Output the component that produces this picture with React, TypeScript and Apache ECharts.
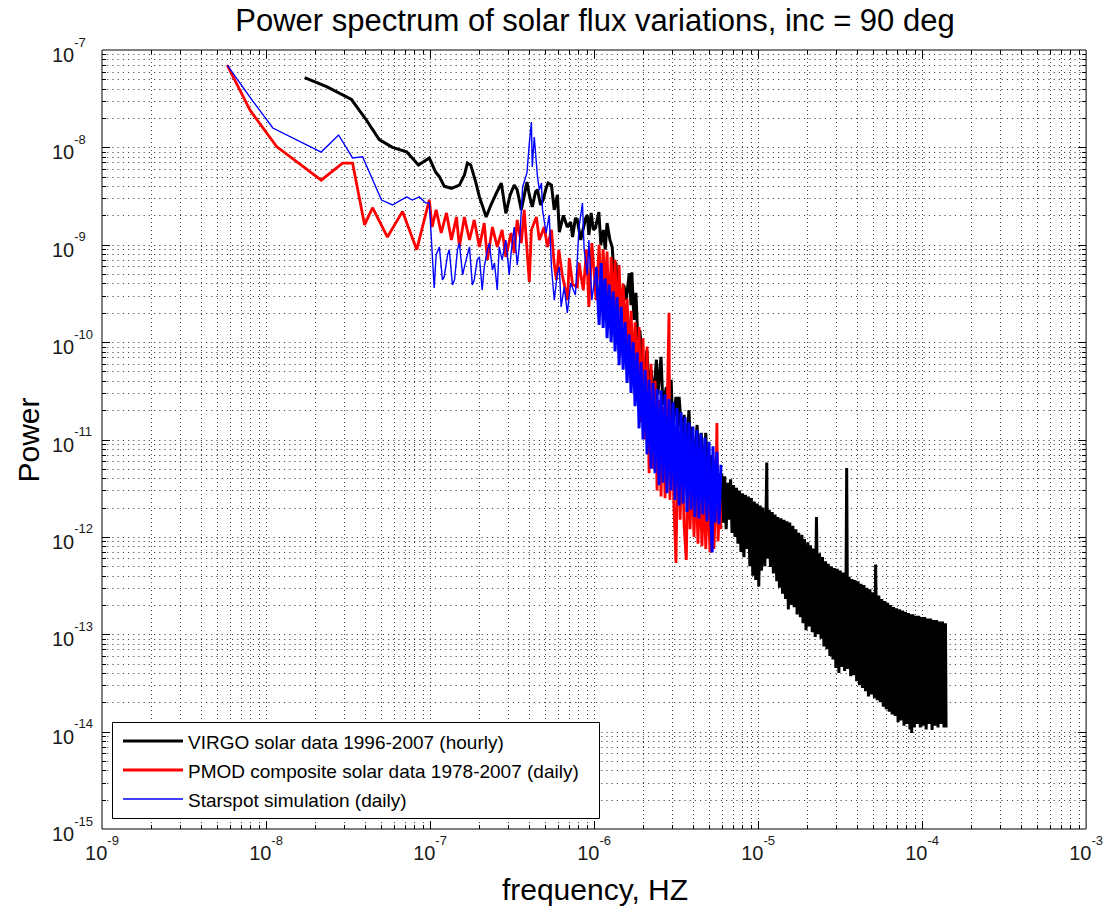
import React, { useEffect, useRef } from 'react';
import * as echarts from 'echarts';

const FONT = '"Liberation Sans", Arial, Helvetica, sans-serif';

const titleText = 'Power spectrum of solar flux variations, inc = 90 deg';
const xAxisTitle = 'frequency, HZ';
const yAxisTitle = 'Power';
const seriesNames = [
  'VIRGO solar data 1996-2007 (hourly)',
  'PMOD composite solar data 1978-2007 (daily)',
  'Starspot simulation (daily)',
];
const seriesColors = ['#000000', '#ff0000', '#0000ff'];
const legendLineWidths = [3, 3, 1.5];

const xDecades = [1e-9, 1e-8, 1e-7, 1e-6, 1e-5, 1e-4, 1e-3];
const yDecades = [1e-15, 1e-14, 1e-13, 1e-12, 1e-11, 1e-10, 1e-9, 1e-8, 1e-7];
const minorSteps = [1, 2, 3, 4, 5, 6, 7, 8, 9];

// VIRGO solar data 1996-2007 (hourly): [frequency Hz, power]
const virgo: [number, number][] = [
  [1.72e-8, 5.2e-8], [2.34e-8, 4.2e-8], [3.32e-8, 3.1e-8], [4.1e-8, 1.9e-8], [4.9e-8, 1.2e-8],
  [5.9e-8, 1.0e-8], [7.2e-8, 9.0e-9], [8.5e-8, 6.6e-9], [9.9e-8, 7.8e-9], [1.08e-7, 5.6e-9],
  [1.14e-7, 5.0e-9], [1.22e-7, 4.0e-9], [1.35e-7, 3.8e-9], [1.51e-7, 4.1e-9], [1.62e-7, 5.2e-9],
  [1.69e-7, 6.9e-9], [1.77e-7, 6.6e-9], [1.9e-7, 4.4e-9], [2.0e-7, 3.1e-9], [2.2e-7, 1.93e-9],
  [2.35e-7, 2.56e-9], [2.54e-7, 3.4e-9], [2.72e-7, 4.3e-9], [2.9e-7, 2.1e-9], [3.08e-7, 3.25e-9],
  [3.26e-7, 4.1e-9], [3.4e-7, 3.66e-9], [3.6e-7, 2.28e-9], [3.9e-7, 4.4e-9], [4.03e-7, 3.25e-9],
  [4.2e-7, 2.45e-9], [4.4e-7, 3.5e-9], [4.52e-7, 3.66e-9], [4.72e-7, 2.56e-9], [4.9e-7, 2.9e-9],
  [5.1e-7, 3.8e-9], [5.25e-7, 4.3e-9], [5.5e-7, 4.1e-9], [5.72e-7, 2.28e-9], [5.98e-7, 3.25e-9],
  [6.14e-7, 1.35e-9], [6.5e-7, 2.0e-9], [6.87e-7, 1.52e-9], [7.2e-7, 1.71e-9], [7.4e-7, 1.2e-9],
  [7.7e-7, 1.88e-9], [7.9e-7, 1.8e-9], [8.3e-7, 1.12e-9], [8.5e-7, 1.35e-9], [8.9e-7, 1.88e-9],
  [9.1e-7, 2.02e-9], [9.3e-7, 1.26e-9], [9.6e-7, 2.12e-9], [9.9e-7, 1.42e-9], [1.02e-6, 1.49e-9],
  [1.07e-6, 2.17e-9], [1.1e-6, 1.0e-9], [1.14e-6, 1.42e-9], [1.17e-6, 8.9e-10], [1.2e-6, 1.67e-9],
  [1.25e-6, 1.12e-9], [1.29e-6, 9.5e-10], [1.33e-6, 4.35e-10], [1.36e-6, 6.6e-10], [1.4e-6, 2.7e-10],
  [1.42e-6, 4.35e-10], [1.46e-6, 2.14e-10], [1.52e-6, 3.87e-10], [1.57e-6, 2.7e-10], [1.64e-6, 5.1e-10],
  [1.68e-6, 2.4e-10], [1.7e-6, 5.2e-10], [1.75e-6, 1.69e-10], [1.8e-6, 3.2e-10], [1.85e-6, 1.05e-10],
  [1.9e-6, 1.33e-10], [1.96e-6, 7.7e-11], [2.02e-6, 3.6e-11], [2.1e-6, 8.3e-11], [2.17e-6, 3.23e-11],
  [2.23e-6, 5.2e-11], [2.3e-6, 2.55e-11], [2.4e-6, 6.6e-11], [2.45e-6, 2.87e-11], [2.56e-6, 7.06e-11],
  [2.63e-6, 2.27e-11], [2.76e-6, 3.46e-11], [2.83e-6, 1.59e-11], [2.95e-6, 4.1e-11], [3.02e-6, 1.41e-11],
  [3.16e-6, 2.74e-11], [3.24e-6, 1.25e-11], [3.3e-6, 2.74e-11], [3.45e-6, 1.0e-11], [3.54e-6, 1.79e-11],
  [3.65e-6, 7.8e-12], [3.79e-6, 2.0e-11], [3.9e-6, 6.2e-12], [3.95e-6, 1.35e-11], [4.07e-6, 5.5e-12],
  [4.25e-6, 1.41e-11], [4.36e-6, 4.9e-12], [4.5e-6, 1.17e-11], [4.6e-6, 3.85e-12], [4.8e-6, 1.17e-11],
  [4.95e-6, 3.04e-12], [5.2e-6, 6.9e-12], [5.3e-6, 2.4e-12], [5.5e-6, 6.2e-12], [5.65e-6, 1.89e-12],
  [5.78e-6, 4.5e-12], [5.95e-6, 1.5e-12],
  [6.0e-6, 4.5e-12], [6.13e-6, 1.4e-12], [6.26e-6, 4.2e-12], [6.39e-6, 1.2e-12], [6.52e-6, 3.6e-12],
  [6.66e-6, 1.5e-12], [6.8e-6, 3.9e-12], [6.94e-6, 1.1e-12], [7.09e-6, 3.4e-12], [7.24e-6, 1.0e-12],
  [7.39e-6, 3.2e-12], [7.54e-6, 8.5e-13], [7.7e-6, 3.0e-12], [7.86e-6, 7e-13], [8.03e-6, 2.8e-12],
  [8.2e-6, 6.2e-13], [8.37e-6, 2.7e-12], [8.55e-6, 7.5e-13], [8.73e-6, 2.6e-12], [8.91e-6, 5e-13],
  [9.1e-6, 2.5e-12], [9.29e-6, 4e-13], [9.48e-6, 2.3e-12], [9.68e-6, 3.6e-13], [9.89e-6, 2.2e-12],
  [1.01e-5, 3.1e-13], [1.03e-5, 2.1e-12], [1.05e-5, 4.5e-13], [1.07e-5, 2.0e-12], [1.1e-5, 5e-13],
  [1.12e-5, 1.9e-12], [1.13e-5, 5.8e-12], [1.14e-5, 6e-13], [1.17e-5, 1.9e-12], [1.19e-5, 4.9e-13],
  [1.22e-5, 1.8e-12], [1.24e-5, 4.2e-13], [1.27e-5, 1.7e-12], [1.3e-5, 3.5e-13], [1.32e-5, 1.6e-12],
  [1.35e-5, 3e-13], [1.38e-5, 1.55e-12], [1.41e-5, 2.6e-13], [1.44e-5, 1.5e-12], [1.47e-5, 2.3e-13],
  [1.5e-5, 1.45e-12], [1.53e-5, 1.8e-13], [1.56e-5, 1.4e-12], [1.6e-5, 2e-13], [1.63e-5, 1.3e-12],
  [1.66e-5, 1.9e-13], [1.7e-5, 1.2e-12], [1.73e-5, 1.6e-13], [1.77e-5, 1.1e-12], [1.81e-5, 1.5e-13],
  [1.85e-5, 1.05e-12], [1.88e-5, 1.3e-13], [1.92e-5, 9.5e-13], [1.96e-5, 1.1e-13], [2.01e-5, 8.8e-13],
  [2.05e-5, 1.2e-13], [2.09e-5, 8.2e-13], [2.14e-5, 1.05e-13], [2.18e-5, 7.6e-13], [2.23e-5, 9.4e-14],
  [2.27e-5, 1.6e-12], [2.32e-5, 1.0e-13], [2.37e-5, 6.8e-13], [2.42e-5, 9e-14], [2.47e-5, 6.2e-13],
  [2.52e-5, 7.5e-14], [2.58e-5, 5.6e-13], [2.63e-5, 7e-14], [2.68e-5, 5.3e-13], [2.74e-5, 6e-14],
  [2.8e-5, 5.0e-13], [2.86e-5, 5.5e-14], [2.92e-5, 4.8e-13], [2.98e-5, 4.5e-14], [3.04e-5, 4.7e-13],
  [3.11e-5, 4.0e-14], [3.17e-5, 4.5e-13], [3.24e-5, 4.6e-14], [3.31e-5, 4.3e-13], [3.37e-5, 4.2e-14],
  [3.44e-5, 4.1e-13], [3.47e-5, 5.1e-12], [3.52e-5, 4.4e-14], [3.59e-5, 3.9e-13], [3.67e-5, 3.7e-14],
  [3.74e-5, 3.7e-13], [3.82e-5, 3.8e-14], [3.9e-5, 3.6e-13], [3.99e-5, 3.3e-14], [4.07e-5, 3.5e-13],
  [4.15e-5, 3.0e-14], [4.24e-5, 3.3e-13], [4.33e-5, 2.8e-14], [4.42e-5, 3.2e-13], [4.52e-5, 2.6e-14],
  [4.61e-5, 3.0e-13], [4.71e-5, 2.3e-14], [4.81e-5, 2.9e-13], [4.91e-5, 2.4e-14], [5.01e-5, 2.7e-13],
  [5.12e-5, 2.2e-14], [5.21e-5, 5.2e-13], [5.33e-5, 2.1e-14], [5.45e-5, 2.5e-13], [5.56e-5, 2.0e-14],
  [5.68e-5, 2.3e-13], [5.8e-5, 1.8e-14], [5.92e-5, 2.2e-13], [6.04e-5, 1.7e-14], [6.17e-5, 2.1e-13],
  [6.3e-5, 1.6e-14], [6.43e-5, 2.0e-13], [6.57e-5, 1.5e-14], [6.7e-5, 1.9e-13], [6.85e-5, 1.45e-14],
  [6.99e-5, 1.85e-13], [7.14e-5, 1.25e-14], [7.29e-5, 1.8e-13], [7.44e-5, 1.3e-14], [7.6e-5, 1.75e-13],
  [7.76e-5, 1.15e-14], [7.92e-5, 1.7e-13], [8.08e-5, 1.2e-14], [8.25e-5, 1.65e-13], [8.43e-5, 1.05e-14],
  [8.6e-5, 1.6e-13], [8.64e-5, 9.7e-15], [8.79e-5, 1.6e-13], [8.97e-5, 1.1e-14], [9.16e-5, 1.55e-13],
  [9.35e-5, 1.2e-14], [9.55e-5, 1.55e-13], [9.75e-5, 1.1e-14], [9.95e-5, 1.5e-13], [1.016e-4, 1.15e-14],
  [1.037e-4, 1.5e-13], [1.059e-4, 1.05e-14], [1.082e-4, 1.45e-13], [1.104e-4, 1.2e-14], [1.128e-4, 1.45e-13],
  [1.151e-4, 1.04e-14], [1.176e-4, 1.4e-13], [1.2e-4, 1.15e-14], [1.226e-4, 1.4e-13], [1.251e-4, 1.1e-14],
  [1.278e-4, 1.35e-13], [1.305e-4, 1.2e-14], [1.332e-4, 1.35e-13], [1.36e-4, 1.1e-14], [1.389e-4, 1.3e-13],
  [1.4e-4, 1.1e-14],
];

// PMOD composite solar data 1978-2007 (daily)
const pmod: [number, number][] = [
  [5.8e-9, 7.0e-8], [8.0e-9, 2.4e-8], [1.16e-8, 1.02e-8], [2.17e-8, 4.6e-9], [2.93e-8, 6.9e-9],
  [3.37e-8, 6.9e-9], [3.99e-8, 1.6e-9], [4.46e-8, 2.4e-9], [5.5e-8, 1.2e-9], [6.8e-8, 2.2e-9],
  [8.3e-8, 8.9e-10], [9.9e-8, 2.9e-9], [1.03e-7, 1.52e-9], [1.09e-7, 2.28e-9], [1.17e-7, 1.32e-9],
  [1.26e-7, 2.12e-9], [1.35e-7, 1.12e-9], [1.45e-7, 1.93e-9], [1.51e-7, 9.5e-10], [1.62e-7, 1.93e-9],
  [1.74e-7, 1.12e-9], [1.86e-7, 1.8e-9], [2.0e-7, 9.5e-10], [2.14e-7, 1.67e-9], [2.24e-7, 7.0e-10],
  [2.4e-7, 1.52e-9], [2.57e-7, 9.5e-10], [2.75e-7, 1.42e-9], [2.9e-7, 7.5e-10], [3.12e-7, 1.32e-9],
  [3.26e-7, 8.2e-10], [3.4e-7, 1.8e-9], [3.6e-7, 1.04e-9], [3.75e-7, 2.28e-9], [3.9e-7, 8.9e-10],
  [4.03e-7, 4.15e-10], [4.15e-7, 1.42e-9], [4.45e-7, 1.93e-9], [4.64e-7, 1.12e-9], [4.97e-7, 1.52e-9],
  [5.2e-7, 9.5e-10], [5.5e-7, 1.42e-9], [5.7e-7, 6.6e-10], [5.9e-7, 4.35e-10], [6.1e-7, 8.9e-10],
  [6.4e-7, 4.9e-10], [6.9e-7, 2.7e-10], [7.06e-7, 7.3e-10], [7.4e-7, 3.9e-10], [7.9e-7, 3.7e-10],
  [8.1e-7, 6.5e-10], [8.6e-7, 3.4e-10], [9.0e-7, 8.9e-10], [9.3e-7, 2.3e-10], [9.7e-7, 1.04e-9],
  [1.03e-6, 2.7e-10], [1.074e-6, 1.0e-9], [1.105e-6, 2.7e-10], [1.136e-6, 9.0e-10], [1.168e-6, 3.4e-10],
  [1.201e-6, 8.5e-10], [1.236e-6, 1.43e-10], [1.271e-6, 7.5e-10], [1.307e-6, 2.0e-10], [1.344e-6, 7.0e-10],
  [1.382e-6, 1.4e-10], [1.422e-6, 6.2e-10], [1.462e-6, 1.5e-10], [1.504e-6, 4.0e-10], [1.546e-6, 1.1e-10],
  [1.59e-6, 2.8e-10], [1.636e-6, 7.0e-11], [1.682e-6, 2.1e-10], [1.73e-6, 5.0e-11], [1.779e-6, 1.6e-10],
  [1.83e-6, 3.5e-11], [1.882e-6, 1.43e-10], [1.935e-6, 1.5e-11], [1.99e-6, 1.1e-10], [2.047e-6, 1.0e-11],
  [2.105e-6, 9.0e-11], [2.165e-6, 4.5e-12], [2.226e-6, 6.0e-11], [2.29e-6, 5.0e-12], [2.355e-6, 4.0e-11],
  [2.422e-6, 3.0e-12], [2.49e-6, 2.55e-11], [2.561e-6, 2.6e-12], [2.634e-6, 2.2e-11], [2.709e-6, 2.5e-12],
  [2.786e-6, 1.8e-11], [2.865e-6, 2.0e-10], [2.9e-6, 2.4e-12], [2.99e-6, 1.6e-11], [3.07e-6, 2.0e-12],
  [3.16e-6, 5.4e-13], [3.25e-6, 1.3e-11], [3.35e-6, 1.5e-12], [3.44e-6, 1.0e-11], [3.54e-6, 1.3e-12],
  [3.65e-6, 5.8e-13], [3.75e-6, 7.5e-12], [3.85e-6, 1.2e-12], [3.95e-6, 5.0e-12], [4.07e-6, 1.0e-12],
  [4.18e-6, 4.5e-12], [4.3e-6, 8.5e-13], [4.42e-6, 3.8e-12], [4.55e-6, 8.0e-13], [4.68e-6, 3.3e-12],
  [4.8e-6, 7.5e-13], [4.95e-6, 3.0e-12], [5.09e-6, 6.9e-13], [5.23e-6, 2.8e-12], [5.38e-6, 7.5e-13],
  [5.53e-6, 2.6e-12], [5.61e-6, 1.48e-11], [5.7e-6, 9e-13], [5.85e-6, 2.5e-12], [5.94e-6, 1.2e-12],
];

// Starspot simulation (daily)
const starspot: [number, number][] = [
  [5.8e-9, 7.0e-8], [7.96e-9, 3.3e-8], [1.1e-8, 1.58e-8], [2.17e-8, 8.95e-9], [2.77e-8, 1.34e-8],
  [3.37e-8, 7.8e-9], [3.88e-8, 8.0e-9], [5.06e-8, 2.88e-9], [5.9e-8, 2.56e-9], [7.2e-8, 3.1e-9],
  [7.8e-8, 2.88e-9], [8.6e-8, 3.1e-9], [9.4e-8, 2.69e-9], [9.9e-8, 2.69e-9], [1.02e-7, 1.12e-9],
  [1.06e-7, 3.6e-10], [1.09e-7, 7.9e-10], [1.14e-7, 9.5e-10], [1.19e-7, 4.35e-10], [1.22e-7, 4.67e-10],
  [1.28e-7, 7.9e-10], [1.31e-7, 8.9e-10], [1.37e-7, 3.87e-10], [1.41e-7, 4.35e-10], [1.47e-7, 8.9e-10],
  [1.51e-7, 1.04e-9], [1.58e-7, 4.9e-10], [1.62e-7, 5.9e-10], [1.69e-7, 7.9e-10], [1.74e-7, 9.5e-10],
  [1.81e-7, 3.87e-10], [1.86e-7, 4.35e-10], [1.94e-7, 7.0e-10], [2.0e-7, 7.5e-10], [2.08e-7, 3.43e-10],
  [2.14e-7, 5.9e-10], [2.24e-7, 8.9e-10], [2.3e-7, 1.04e-9], [2.4e-7, 5.5e-10], [2.47e-7, 6.5e-10],
  [2.57e-7, 3.43e-10], [2.64e-7, 9.5e-10], [2.75e-7, 7.0e-10], [2.9e-7, 1.12e-9], [3.04e-7, 4.9e-10],
  [3.12e-7, 8.2e-10], [3.26e-7, 1.52e-9], [3.4e-7, 6.2e-10], [3.5e-7, 9.5e-10], [3.67e-7, 3.92e-9],
  [3.9e-7, 5.5e-9], [4.03e-7, 1.1e-8], [4.15e-7, 1.82e-8], [4.2e-7, 6.3e-9], [4.32e-7, 1.28e-8],
  [4.52e-7, 4.97e-9], [4.64e-7, 3.65e-9], [4.78e-7, 4.3e-9], [4.85e-7, 2.28e-9], [5.1e-7, 1.32e-9],
  [5.33e-7, 2.02e-9], [5.5e-7, 5.9e-10], [5.72e-7, 2.7e-10], [5.98e-7, 5.1e-10], [6.14e-7, 5.9e-10],
  [6.3e-7, 2.3e-10], [6.58e-7, 3.7e-10], [6.87e-7, 2.0e-10], [7.2e-7, 4.05e-10], [7.7e-7, 3.05e-10],
  [8.1e-7, 1.52e-9], [8.5e-7, 2.69e-9], [8.7e-7, 8.9e-10], [9.1e-7, 4.9e-10], [9.3e-7, 1.12e-9],
  [9.7e-7, 2.7e-10], [1.03e-6, 5.9e-10], [1.074e-6, 1.5e-10], [1.105e-6, 6.5e-10], [1.136e-6, 1.4e-10],
  [1.168e-6, 4.5e-10], [1.201e-6, 1.1e-10], [1.236e-6, 3.9e-10], [1.271e-6, 1.0e-10], [1.307e-6, 3.3e-10],
  [1.344e-6, 8.0e-11], [1.382e-6, 2.9e-10], [1.422e-6, 5.8e-11], [1.462e-6, 2.3e-10], [1.504e-6, 5.2e-11],
  [1.546e-6, 1.6e-10], [1.59e-6, 3.8e-11], [1.636e-6, 1.2e-10], [1.682e-6, 3.0e-11], [1.73e-6, 1.0e-10],
  [1.779e-6, 2.2e-11], [1.83e-6, 7.8e-11], [1.882e-6, 1.3e-11], [1.935e-6, 6.2e-11], [1.99e-6, 1.0e-11],
  [2.047e-6, 5.2e-11], [2.105e-6, 7.0e-12], [2.165e-6, 4.1e-11], [2.226e-6, 5.0e-12], [2.29e-6, 3.8e-11],
  [2.355e-6, 4.5e-12], [2.422e-6, 3.3e-11], [2.49e-6, 3.4e-12], [2.561e-6, 3.2e-11], [2.634e-6, 3.6e-12],
  [2.709e-6, 2.9e-11], [2.786e-6, 2.8e-12], [2.865e-6, 2.6e-11], [2.946e-6, 3.0e-12], [3.03e-6, 2.4e-11],
  [3.116e-6, 2.4e-12], [3.204e-6, 2.1e-11], [3.3e-6, 2.1e-12], [3.39e-6, 1.9e-11], [3.49e-6, 2.2e-12],
  [3.59e-6, 1.7e-11], [3.69e-6, 1.8e-12], [3.79e-6, 1.5e-11], [3.9e-6, 1.9e-12], [4.01e-6, 1.35e-11],
  [4.12e-6, 1.6e-12], [4.24e-6, 1.25e-11], [4.36e-6, 1.55e-12], [4.48e-6, 1.15e-11], [4.61e-6, 1.7e-12],
  [4.74e-6, 1.05e-11], [4.88e-6, 1.45e-12], [5.02e-6, 9.5e-12], [5.16e-6, 1.5e-12], [5.25e-6, 6.9e-13],
  [5.31e-6, 8.5e-12], [5.46e-6, 1.4e-12], [5.61e-6, 7.5e-12], [5.78e-6, 1.35e-12], [5.94e-6, 5.5e-12],
];

const starspotSparse = starspot.filter(([f]) => f <= 1.03e-6);
const starspotDense = starspot.filter(([f]) => f >= 1.03e-6);

function buildGridItems() {
  const items: number[][] = [];
  for (let i = 0; i < xDecades.length - 1; i++) {
    for (const m of minorSteps) {
      if (i === 0 && m === 1) continue;
      items.push([xDecades[i] * m, 1e-11, 0, m === 1 ? 1 : 0]);
    }
  }
  for (let i = 0; i < yDecades.length - 1; i++) {
    for (const m of minorSteps) {
      if (i === 0 && m === 1) continue;
      items.push([1e-6, yDecades[i] * m, 1, m === 1 ? 1 : 0]);
    }
  }
  return items;
}

const labelFmt = (v: number) => `{b|10}{e|${Math.round(Math.log10(v))}}`;
const richLabel = {
  b: { fontSize: 20, fontFamily: FONT, color: '#1a1a1a', padding: [10, 0, 0, 0] },
  e: { fontSize: 13, fontFamily: FONT, color: '#1a1a1a', padding: [0, 0, 16, 0] },
};

function textEl(text: string, x: number, y: number, size: number, align: string, extra: any = {}) {
  return {
    type: 'text', x, y, z: 100, ...extra,
    style: {
      text, fontSize: size, fontFamily: FONT, fill: '#000',
      align, verticalAlign: 'middle', textAlign: align, textVerticalAlign: 'middle',
    },
  };
}

export default function App() {
  const ref = useRef<HTMLDivElement>(null);
  useEffect(() => {
    if (!ref.current) return;
    const chart = echarts.init(ref.current, undefined, { renderer: 'svg' });
    const vGridStyle = { stroke: '#4a4a4a', lineWidth: 1, lineDash: [1, 3] };
    const hGridStyle = { stroke: '#4a4a4a', lineWidth: 1, lineDash: [1.2, 4] };
    const tickStyle = { stroke: '#000', lineWidth: 1 };
    const legendRows = [741, 770, 799];
    const legendGraphics: any[] = [
      {
        type: 'rect', z: 99,
        shape: { x: 112.5, y: 722.5, width: 487, height: 96 },
        style: { fill: '#ffffff', stroke: '#000', lineWidth: 1 },
      },
    ];
    seriesNames.forEach((name, i) => {
      legendGraphics.push({
        type: 'line', z: 100,
        shape: { x1: 123, y1: legendRows[i], x2: 183, y2: legendRows[i] },
        style: { stroke: seriesColors[i], lineWidth: legendLineWidths[i] },
      });
      legendGraphics.push(textEl(name, 188, legendRows[i] + 1, 19, 'left'));
    });

    const lineSeries = (name: string, data: [number, number][], color: string, width: number, z: number) => ({
      type: 'line', name, z,
      data,
      showSymbol: false, symbol: 'none',
      lineStyle: { color, width, join: 'miter', miterLimit: 2 },
      itemStyle: { color },
    });

    const option: any = {
      animation: false,
      backgroundColor: '#ffffff',
      grid: {
        left: 102, right: 18, top: 50, bottom: 78,
        show: true, borderColor: '#000', borderWidth: 1, backgroundColor: '#ffffff',
      },
      xAxis: {
        type: 'log', logBase: 10, min: 1e-9, max: 1e-3,
        axisLine: { show: false }, axisTick: { show: false }, splitLine: { show: false },
        axisLabel: { formatter: labelFmt, rich: richLabel, margin: 4, fontFamily: FONT },
      },
      yAxis: {
        type: 'log', logBase: 10, min: 1e-15, max: 1e-7,
        axisLine: { show: false }, axisTick: { show: false }, splitLine: { show: false },
        axisLabel: { formatter: labelFmt, rich: richLabel, margin: 50, align: 'left', fontFamily: FONT },
      },
      graphic: [
        textEl(titleText, 595, 20, 31, 'center'),
        textEl(xAxisTitle, 595, 889, 30, 'center'),
        textEl(yAxisTitle, 28, 440, 30, 'center', { rotation: Math.PI / 2 }),
        ...legendGraphics,
      ],
      series: [
        {
          type: 'custom', name: 'grid', z: 1, silent: true, clip: false,
          encode: { x: 0, y: 1 },
          data: buildGridItems(),
          renderItem: (params: any, api: any) => {
            const cs = params.coordSys;
            const dir = api.value(2);
            const len = api.value(3) ? 8 : 4;
            const pt = api.coord([api.value(0), api.value(1)]);
            if (dir === 0) {
              const x = Math.round(pt[0]) + 0.5;
              const y0 = cs.y, y1 = cs.y + cs.height;
              return {
                type: 'group', children: [
                  { type: 'line', shape: { x1: x, y1: y0, x2: x, y2: y1 }, style: vGridStyle },
                  { type: 'line', shape: { x1: x, y1: y1, x2: x, y2: y1 - len }, style: tickStyle },
                  { type: 'line', shape: { x1: x, y1: y0, x2: x, y2: y0 + len }, style: tickStyle },
                ],
              };
            }
            const y = Math.round(pt[1]) + 0.5;
            const x0 = cs.x, x1 = cs.x + cs.width;
            return {
              type: 'group', children: [
                { type: 'line', shape: { x1: x0, y1: y, x2: x1, y2: y }, style: hGridStyle },
                { type: 'line', shape: { x1: x0, y1: y, x2: x0 + len, y2: y }, style: tickStyle },
                { type: 'line', shape: { x1: x1, y1: y, x2: x1 - len, y2: y }, style: tickStyle },
              ],
            };
          },
        },
        lineSeries(seriesNames[0], virgo, seriesColors[0], 3, 2),
        lineSeries(seriesNames[1], pmod, seriesColors[1], 2.8, 3),
        lineSeries(seriesNames[2], starspotSparse, seriesColors[2], 1.4, 4),
        lineSeries(seriesNames[2], starspotDense, seriesColors[2], 3, 4),
      ],
    };
    chart.setOption(option);
    return () => chart.dispose();
  }, []);
  return (
    <div
      ref={ref}
      style={{ position: 'absolute', left: 0, top: 0, width: 1106, height: 907, background: '#fff' }}
    />
  );
}
